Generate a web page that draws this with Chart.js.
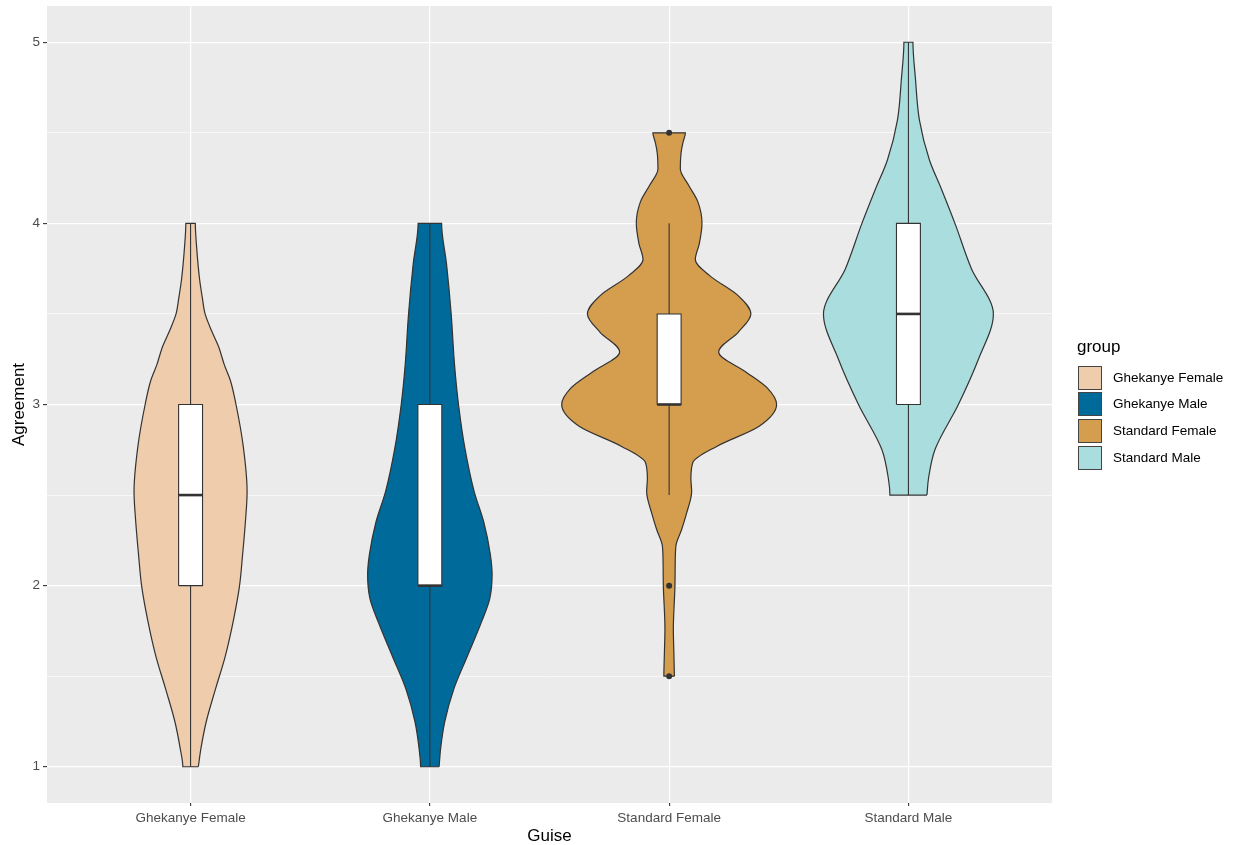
<!DOCTYPE html>
<html>
<head>
<meta charset="utf-8">
<title>Agreement by Guise</title>
<script src="https://cdn.jsdelivr.net/npm/chart.js@4.4.1/dist/chart.umd.min.js"></script>
<style>
  html, body { margin: 0; padding: 0; background: #ffffff; }
  #wrap { width: 1233px; height: 845px; }
</style>
</head>
<body>
<div id="wrap"><canvas id="chart" width="1233" height="845"></canvas></div>
<script>
Chart.defaults.font.family = "'Liberation Sans', Arial, Helvetica, sans-serif";

// ---- data ----
const categories = ['Ghekanye Female', 'Ghekanye Male', 'Standard Female', 'Standard Male'];
const fillColors = ['#EECCAC', '#006A9B', '#D59D4E', '#AADDDE'];
const yTicks = [1, 2, 3, 4, 5];
const yMinorTicks = [1.5, 2.5, 3.5, 4.5];

// violin outlines: agreement level and scaled density at that level
const gfLevels  = [1.0, 1.1, 1.25, 1.43, 1.61, 1.8, 2.0, 2.17, 2.35, 2.52, 2.77, 3.0, 3.13, 3.22, 3.32, 3.41, 3.5, 3.59, 3.69, 3.87, 4.0];
const gfDensity = [0.072, 0.096, 0.146, 0.232, 0.322, 0.395, 0.455, 0.483, 0.509, 0.525, 0.489, 0.422, 0.371, 0.313, 0.26, 0.193, 0.135, 0.109, 0.084, 0.056, 0.044];

const gmLevels  = [1.0, 1.1, 1.25, 1.43, 1.61, 1.8, 1.93, 2.06, 2.17, 2.35, 2.52, 2.76, 3.0, 3.22, 3.5, 3.775, 4.0];
const gmDensity = [0.086, 0.1, 0.139, 0.223, 0.348, 0.48, 0.557, 0.578, 0.562, 0.501, 0.411, 0.325, 0.266, 0.229, 0.198, 0.155, 0.109];

const sfLevels  = [1.5, 1.63, 1.76, 2.0, 2.11, 2.22, 2.31, 2.4, 2.52, 2.59, 2.68, 2.77, 2.88, 3.0, 3.09, 3.18, 3.29, 3.4, 3.5, 3.6, 3.71, 3.8, 3.89, 4.0, 4.12, 4.21, 4.3, 4.39, 4.45, 4.5];
const sfDensity = [0.049, 0.044, 0.039, 0.054, 0.056, 0.063, 0.116, 0.162, 0.209, 0.202, 0.22, 0.446, 0.836, 0.998, 0.913, 0.712, 0.46, 0.643, 0.759, 0.643, 0.379, 0.243, 0.281, 0.305, 0.266, 0.181, 0.104, 0.111, 0.13, 0.151];

const smLevels  = [2.5, 2.59, 2.75, 3.0, 3.25, 3.5, 3.75, 4.0, 4.19, 4.35, 4.57, 4.8, 5.0];
const smDensity = [0.172, 0.186, 0.246, 0.464, 0.65, 0.789, 0.585, 0.432, 0.306, 0.195, 0.102, 0.065, 0.042];

// boxplot summaries per group
const whiskerLow  = [1, 1, 2.5, 2.5];
const quart1      = [2, 2, 3, 3];
const medians     = [2.5, 2, 3, 3.5];
const quart3      = [3, 3, 3.5, 4];
const whiskerHigh = [4, 4, 4, 5];
const outlierGroup  = [3, 3, 3];
const outlierValues = [4.5, 2, 1.5];

// ---- styling ----
const VIOLIN_HALF = 0.45;   // half of the 0.9 violin width
const BOX_HALF = 0.05;      // half of the 0.1 box width
const OUTLINE = '#333333';
const PANEL_BG = '#EBEBEB';

const levelsByGroup = [gfLevels, gmLevels, sfLevels, smLevels];
const densityByGroup = [gfDensity, gmDensity, sfDensity, smDensity];

// closed outline: right side upward, flat top, left side downward, flat bottom
function violinPath(center, levels, dens) {
  const pts = [];
  const n = levels.length;
  for (let i = 0; i < n; i++) pts.push({ x: center + dens[i] * VIOLIN_HALF, y: levels[i] });
  for (let i = n - 1; i >= 0; i--) pts.push({ x: center - dens[i] * VIOLIN_HALF, y: levels[i] });
  pts.push({ x: center + dens[0] * VIOLIN_HALF, y: levels[0] });
  return pts;
}

const datasets = [];
categories.forEach((name, i) => {
  const c = i + 1;
  datasets.push({
    label: name,
    data: violinPath(c, levelsByGroup[i], densityByGroup[i]),
    indexAxis: 'y',
    cubicInterpolationMode: 'monotone',
    borderColor: OUTLINE,
    borderWidth: 1.2,
    backgroundColor: fillColors[i],
    fill: 'shape',
    pointRadius: 0,
    order: 4
  });
  datasets.push({
    label: name + ' whisker',
    data: [{ x: c, y: whiskerLow[i] }, { x: c, y: whiskerHigh[i] }],
    borderColor: OUTLINE,
    borderWidth: 1.1,
    fill: false,
    pointRadius: 0,
    order: 3
  });
  datasets.push({
    label: name + ' box',
    data: [
      { x: c - BOX_HALF, y: quart1[i] }, { x: c + BOX_HALF, y: quart1[i] },
      { x: c + BOX_HALF, y: quart3[i] }, { x: c - BOX_HALF, y: quart3[i] },
      { x: c - BOX_HALF, y: quart1[i] }
    ],
    borderColor: OUTLINE,
    borderWidth: 1.1,
    backgroundColor: '#FFFFFF',
    fill: 'shape',
    tension: 0,
    pointRadius: 0,
    order: 2
  });
  datasets.push({
    label: name + ' median',
    data: [{ x: c - BOX_HALF, y: medians[i] }, { x: c + BOX_HALF, y: medians[i] }],
    borderColor: OUTLINE,
    borderWidth: 2.6,
    borderCapStyle: 'butt',
    fill: false,
    pointRadius: 0,
    order: 1
  });
});
datasets.push({
  label: 'outliers',
  data: outlierGroup.map((g, k) => ({ x: g, y: outlierValues[k] })),
  showLine: false,
  pointRadius: 3,
  pointBackgroundColor: OUTLINE,
  pointBorderColor: OUTLINE,
  pointBorderWidth: 0,
  order: 0
});

// grey panel behind the grid
const panelPlugin = {
  id: 'panel',
  beforeDraw(chart) {
    const { ctx, chartArea: a } = chart;
    ctx.save();
    ctx.fillStyle = PANEL_BG;
    ctx.fillRect(a.left, a.top, a.right - a.left, a.bottom - a.top);
    ctx.restore();
  }
};

// fill legend on the right
const legendPlugin = {
  id: 'groupLegend',
  afterDraw(chart) {
    const { ctx, chartArea: a } = chart;
    const key = 24, row = 26.7;
    const mid = (a.top + a.bottom) / 2;
    const top = mid - (27 + categories.length * row) / 2 + 1;
    const x0 = a.right + 25;
    ctx.save();
    ctx.fillStyle = '#000000';
    ctx.textBaseline = 'middle';
    ctx.textAlign = 'left';
    ctx.font = "17px 'Liberation Sans', Arial, sans-serif";
    ctx.fillText('group', x0, top + 9);
    ctx.font = "13.5px 'Liberation Sans', Arial, sans-serif";
    categories.forEach((name, i) => {
      const ky = Math.round(top + 27 + i * row);
      const kx = Math.round(x0 + 1);
      ctx.fillStyle = fillColors[i];
      ctx.fillRect(kx, ky, key, key);
      ctx.strokeStyle = '#444444';
      ctx.lineWidth = 1;
      ctx.strokeRect(kx + 0.5, ky + 0.5, key - 1, key - 1);
      ctx.fillStyle = '#000000';
      ctx.fillText(name, x0 + 36, ky + key / 2);
    });
    ctx.restore();
  }
};

const tickFont = { size: 13.5 };
const titleFont = { size: 17 };

new Chart(document.getElementById('chart'), {
  type: 'line',
  data: { datasets },
  options: {
    responsive: false,
    animation: false,
    events: [],
    layout: { padding: { top: 6, right: 181, left: 0, bottom: 0 } },
    plugins: {
      legend: { display: false },
      tooltip: { enabled: false }
    },
    scales: {
      x: {
        type: 'linear',
        min: 0.4,
        max: 4.6,
        afterBuildTicks(scale) {
          scale.ticks = categories.map((_, i) => ({ value: i + 1 }));
        },
        afterFit(scale) {
          scale.height = 42;
          scale.paddingLeft = 0;
          scale.paddingRight = 0;
        },
        ticks: {
          autoSkip: false,
          maxRotation: 0,
          padding: 4,
          color: '#4D4D4D',
          font: tickFont,
          callback: (v) => categories[Math.round(v) - 1]
        },
        grid: {
          color: '#FFFFFF',
          lineWidth: 1.2,
          drawTicks: true,
          tickLength: 3,
          tickColor: OUTLINE,
          tickWidth: 1.1
        },
        border: { display: false },
        title: {
          display: true,
          text: 'Guise',
          color: '#000000',
          font: titleFont,
          padding: { top: 0, bottom: -2 }
        }
      },
      y: {
        type: 'linear',
        min: 0.8,
        max: 5.2,
        afterBuildTicks(scale) {
          scale.ticks = yTicks.concat(yMinorTicks).sort((p, q) => p - q).map(v => ({ value: v }));
        },
        afterFit(scale) {
          scale.width = 47;
          scale.paddingTop = 0;
          scale.paddingBottom = 0;
        },
        ticks: {
          padding: 3,
          color: '#4D4D4D',
          font: tickFont,
          callback: (v) => (yTicks.includes(v) ? String(v) : '')
        },
        grid: {
          color: '#FFFFFF',
          lineWidth: (ctx) => (yTicks.includes(ctx.tick && ctx.tick.value) ? 1.2 : 0.6),
          drawTicks: true,
          tickLength: 4,
          tickColor: (ctx) => (yTicks.includes(ctx.tick && ctx.tick.value) ? OUTLINE : 'rgba(0,0,0,0)'),
          tickWidth: 1.1
        },
        border: { display: false },
        title: {
          display: true,
          text: 'Agreement',
          color: '#000000',
          font: titleFont,
          padding: { top: 9, bottom: 0 }
        }
      }
    }
  },
  plugins: [panelPlugin, legendPlugin]
});
</script>
</body>
</html>
